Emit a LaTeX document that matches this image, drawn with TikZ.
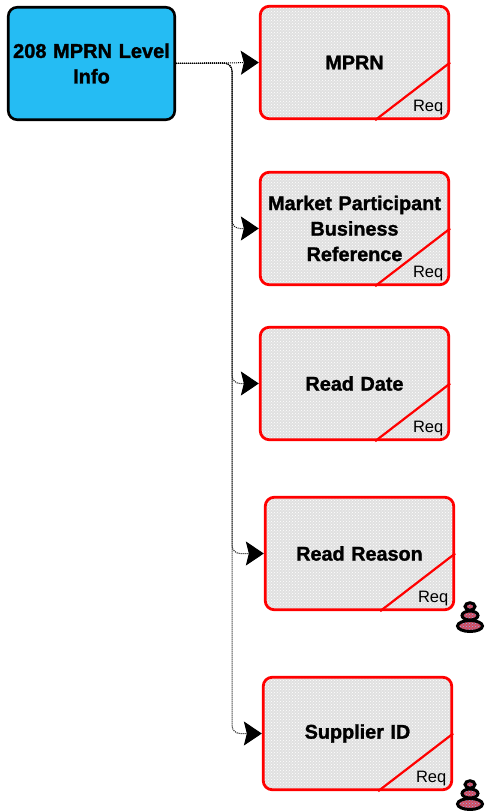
\documentclass[tikz,border=0pt]{standalone}
\usepackage{fontspec}
\setmainfont{Liberation Sans}
\newfontfamily\headfont[FakeBold=1.4]{Liberation Sans Bold}
\usetikzlibrary{arrows.meta,patterns,shapes.geometric}
\definecolor{infoblue}{HTML}{25BCF3}
\definecolor{boxgrey}{HTML}{E0E0E0}
\definecolor{stackblue}{HTML}{8FB8F0}
\tikzset{
  infobox/.style={draw=black,line width=2.6pt,rounded corners=9pt,fill=infoblue,
    minimum width=166.5pt,minimum height=112.5pt,text width=159pt,align=center,
    font=\headfont\fontsize{20}{25.5}\selectfont},
  fieldbox/.style={draw=red,line width=2.8pt,rounded corners=9pt,
    preaction={fill=boxgrey},pattern=crosshatch dots,pattern color=white,
    minimum width=188.5pt,minimum height=112.5pt,text width=178pt,align=center,
    font=\headfont\fontsize{19.8}{25.5}\selectfont},
  cutline/.style={draw=red,line width=2.2pt},
  reqlabel/.style={font=\fontsize{16.5}{18}\selectfont,inner sep=0pt},
  link/.style={dash pattern=on 1pt off 1pt,line width=1pt,rounded corners=8pt,-{Stealth[length=18pt,width=24pt,inset=3pt]}},
  stackpart/.style={ellipse,draw=black,line width=3pt,inner sep=0pt,
    preaction={fill=red!60!stackblue},pattern=crosshatch dots,pattern color=stackblue}
}
\begin{document}
\begin{tikzpicture}[x=1pt,y=-1pt]
\useasboundingbox (0,0) rectangle (485,811);

\node[infobox] (info) at (91.5,63.5) {208 MPRN Level\\Info};

\node[fieldbox] (mprn) at (354.5,62.5) {MPRN};
\node[fieldbox] (market) at (354.5,228.5) {Market Participant\\Business\\Reference};
\node[fieldbox] (date) at (354.5,383.5) {Read Date};
\node[fieldbox] (reason) at (359.5,553.5) {Read Reason};
\node[fieldbox] (supplier) at (357.5,733.5) {Supplier ID};

\coordinate (trunk) at (232,63);

% corner cut and Req on every field
\foreach \fld in {mprn,market,date,reason,supplier}{
  \draw[cutline] ([xshift=-75pt]\fld.south east) -- (\fld.east);
  \node[reqlabel] (\fld req) at ([xshift=-22pt,yshift=13pt]\fld.south east) {Req};
}

\draw[link] (info.east) -- (mprn.west);
\foreach \fld in {market,date,reason,supplier}{
  \draw[link] (info.east) -- (trunk) -- (trunk |- \fld.west) -- (\fld.west);
}

% stacks
\foreach \nm/\px/\py in {one/470/626,two/470/804}{
  \node[stackpart,minimum width=25pt,minimum height=11pt] (\nm low) at (\px,\py) {};
  \node[stackpart,minimum width=16pt,minimum height=9pt] (\nm mid) at (\px,\py-10.5) {};
  \node[stackpart,minimum width=10pt,minimum height=7.5pt] (\nm top) at (\px,\py-19.5) {};
}

\end{tikzpicture}
\end{document}
